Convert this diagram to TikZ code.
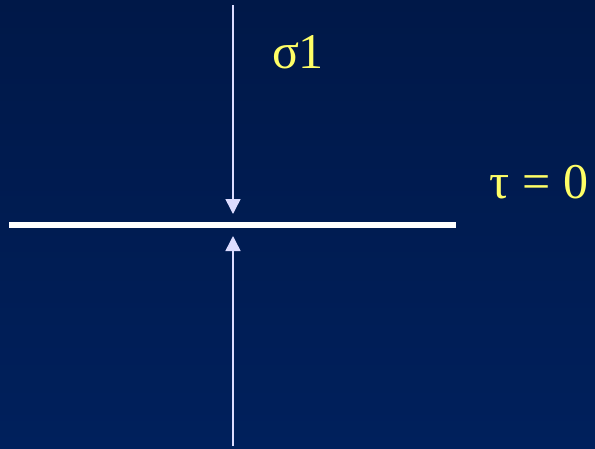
\documentclass[tikz,border=0pt]{standalone}
\usepackage{fontspec}
\setmainfont{Liberation Serif}
\usetikzlibrary{arrows.meta}
\definecolor{navytop}{HTML}{001848}
\definecolor{navybot}{HTML}{00205C}
\definecolor{stresscol}{HTML}{DCDCFF}
\definecolor{labelcol}{HTML}{FFFF66}
\begin{document}
\begin{tikzpicture}[
x=1pt, y=-1pt,
every node/.style={font=\fontsize{50}{54}\selectfont, text=labelcol, inner sep=0pt},
load/.style={-{Triangle[width=15pt,length=15pt]}, line width=1.5pt, draw=stresscol, fill=stresscol},
plane/.style={white, line width=6pt}
]

    % Background
    \shade[top color=navytop, bottom color=navybot] (0,0) rectangle (595,448);
    \useasboundingbox (0,0) rectangle (595,448);

    % Plane
    \coordinate (pl) at (9,225);
    \coordinate (pr) at (456,225);
    \draw[plane] (pl) -- (pr);

    % Loads
    \coordinate (ttop) at (233,5);
    \coordinate (ttip) at (233,214);
    \coordinate (bbot) at (233,446);
    \coordinate (btip) at (233,236);
    \draw[load] (ttop) -- (ttip);
    \draw[load] (bbot) -- (btip);

    % Labels
    \node[anchor=base] (sig) at (298,68) {σ1};
    \node[anchor=base] (tau) at (539,198) {τ = 0};

\end{tikzpicture}
\end{document}
